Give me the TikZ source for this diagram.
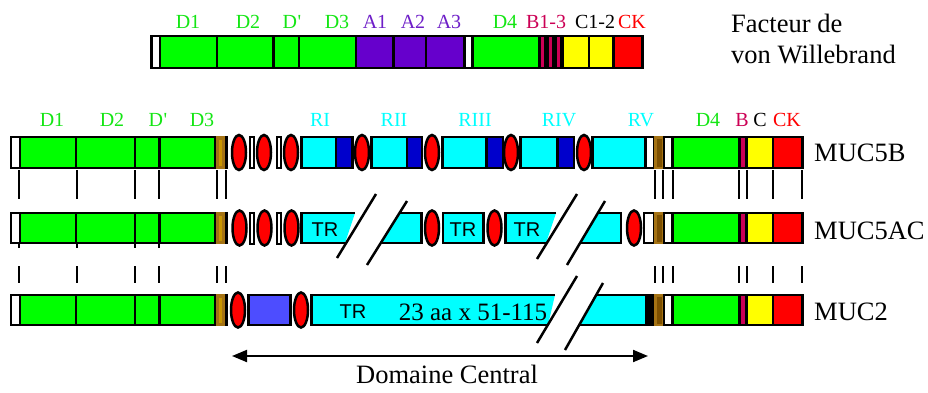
\documentclass[tikz,border=0pt]{standalone}
\usepackage{fontspec}
\setmainfont{Liberation Serif}
\newfontfamily\trfont{Liberation Sans}
\usetikzlibrary{arrows.meta}
\definecolor{vgreen}{RGB}{0,255,0}
\definecolor{lgreen}{RGB}{20,230,20}
\definecolor{vpurple}{RGB}{102,0,204}
\definecolor{lpurple}{RGB}{110,30,200}
\definecolor{vmag}{RGB}{204,0,85}
\definecolor{vyellow}{RGB}{255,255,0}
\definecolor{vred}{RGB}{255,0,0}
\definecolor{vcyan}{RGB}{0,255,255}
\definecolor{vdblue}{RGB}{0,0,204}
\definecolor{vmblue}{RGB}{77,77,255}
\definecolor{vbrown}{RGB}{125,80,0}
\definecolor{vbrownl}{RGB}{165,115,20}
\definecolor{vgold}{RGB}{200,150,0}
\tikzset{
  segbox/.style={draw=black, line width=2.5pt},
  lab/.style={anchor=base, inner sep=0pt, font=\fontsize{20}{24}\selectfont},
  big/.style={anchor=base west, inner sep=0pt, font=\fontsize{26.5}{30}\selectfont},
  trlab/.style={anchor=base, inner sep=0pt, font=\trfont\fontsize{20}{24}\selectfont},
  tk/.style={line width=2.2pt},
  slash/.style={line width=2.5pt},
  open/.style={line width=2.5pt, line join=miter}
}
\newcommand\seg[5]{\filldraw[segbox, fill=#5] (#1,#3) rectangle (#2,#4);}
\newcommand\rell[2]{\filldraw[fill=vred, line width=2.5pt] (#1,#2) ellipse [x radius=7, y radius=17.5];}
\newcommand\wbox[3]{\filldraw[fill=white, line width=2pt] (#1,#3) rectangle (#2,{#3+30.5});}
\newcommand\Dprime{D\kern0.5pt\textquotesingle}
\newcommand\Drow[2]{%
  \seg{11}{20}{#1}{#2}{white}
  \seg{20}{76}{#1}{#2}{vgreen}
  \seg{76}{135}{#1}{#2}{vgreen}
  \seg{135}{159.5}{#1}{#2}{vgreen}
  \seg{159.5}{215}{#1}{#2}{vgreen}
  \fill[vbrownl] (215.5,{#1-1.25}) rectangle (224.5,{#2+1.25});
  \fill[vgold] (218.5,{#1+2.5}) rectangle (222,{#2-2.5});
  \draw[line width=2.5pt] (226.5,{#1-1.25}) -- (226.5,{#2+1.25});
}
\newcommand\Rrow[4]{%
  \seg{#3}{654}{#1}{#2}{#4}
  \fill[vbrownl] (654,{#1-1.25}) rectangle (664,{#2+1.25});
  \fill[vbrown] (656.5,{#1+1.5}) rectangle (661.5,{#2-1.5});
  \seg{664}{672.5}{#1}{#2}{white}
  \seg{672.5}{739}{#1}{#2}{vgreen}
  \seg{739}{747}{#1}{#2}{black}
  \fill[vmag] (741,{#1+1.25}) rectangle (744.5,{#2-1.25});
  \seg{747}{773}{#1}{#2}{vyellow}
  \seg{773}{802.5}{#1}{#2}{vred}
}
\begin{document}
\begin{tikzpicture}[x=1pt,y=-1pt]
\useasboundingbox (0,0) rectangle (928,392);
\fill[white] (0,0) rectangle (928,392);

% ---------- von Willebrand factor ----------
\seg{151.5}{160}{36}{68}{white}
\seg{160}{217}{36}{68}{vgreen}
\seg{217}{273.5}{36}{68}{vgreen}
\seg{273.5}{299}{36}{68}{vgreen}
\seg{299}{356}{36}{68}{vgreen}
\seg{356}{393.5}{36}{68}{vpurple}
\seg{393.5}{426}{36}{68}{vpurple}
\seg{426}{464.5}{36}{68}{vpurple}
\seg{464.5}{472.5}{36}{68}{white}
\seg{472.5}{539}{36}{68}{vgreen}
\seg{539}{563}{36}{68}{black}
\fill[vmag] (541,37.25) rectangle (544,66.75);
\fill[vmag] (549,37.25) rectangle (552,66.75);
\fill[vmag] (557,37.25) rectangle (560,66.75);
\seg{563}{589}{36}{68}{vyellow}
\seg{589}{613.5}{36}{68}{vyellow}
\seg{613.5}{642.5}{36}{68}{vred}

\node[lab, text=lgreen] (vD1) at (188,28) {D1};
\node[lab, text=lgreen] (vD2) at (248,28) {D2};
\node[lab, text=lgreen] (vDp) at (292,28) {\Dprime};
\node[lab, text=lgreen] (vD3) at (337,28) {D3};
\node[lab, text=lpurple] (vA1) at (375,28) {A1};
\node[lab, text=lpurple] (vA2) at (413,28) {A2};
\node[lab, text=lpurple] (vA3) at (449,28) {A3};
\node[lab, text=lgreen] (vD4) at (505,28) {D4};
\node[lab, text=vmag] (vB) at (546,28) {B1-3};
\node[lab, text=black] (vC) at (595,28) {C1-2};
\node[lab, text=vred] (vCK) at (632,28) {CK};

\node[big] (fac1) at (731,32) {Facteur de};
\node[big] (fac2) at (731,63) {von Willebrand};

% ---------- MUC5B ----------
\Drow{137}{168}
\rell{239}{152.5}
\wbox{250}{254}{137.25}
\rell{264}{152.5}
\wbox{277}{281}{137.25}
\rell{291}{152.5}
\seg{301.5}{336}{137}{168}{vcyan}
\seg{336}{352.5}{137}{168}{vdblue}
\rell{362}{152.5}
\seg{371.5}{407}{137}{168}{vcyan}
\seg{407}{422}{137}{168}{vdblue}
\rell{432}{152.5}
\seg{442.5}{486.5}{137}{168}{vcyan}
\seg{486.5}{503}{137}{168}{vdblue}
\rell{511}{152.5}
\seg{520.5}{557.5}{137}{168}{vcyan}
\seg{557.5}{574}{137}{168}{vdblue}
\rell{584}{152.5}
\seg{592.5}{645.5}{137}{168}{vcyan}
\Rrow{137}{168}{645.5}{white}

\node[lab, text=lgreen] (bD1) at (52,126) {D1};
\node[lab, text=lgreen] (bD2) at (112,126) {D2};
\node[lab, text=lgreen] (bDp) at (158,126) {\Dprime};
\node[lab, text=lgreen] (bD3) at (202,126) {D3};
\node[lab, text=vcyan] (bR1) at (320,126) {RI};
\node[lab, text=vcyan] (bR2) at (394,126) {RII};
\node[lab, text=vcyan] (bR3) at (475,126) {RIII};
\node[lab, text=vcyan] (bR4) at (559,126) {RIV};
\node[lab, text=vcyan] (bR5) at (641,126) {RV};
\node[lab, text=lgreen] (bD4) at (708,126) {D4};
\node[lab, text=vmag] (bB) at (742,126) {B};
\node[lab, text=black] (bC) at (760,126) {C};
\node[lab, text=vred] (bCK) at (787,126) {CK};
\node[big] (m5b) at (814,161.5) {MUC5B};

% ticks MUC5B -> MUC5AC
\foreach \x in {19,77,135,159,217,226,655,663,673,739,747,773,802}
  \draw[tk] (\x,170) -- (\x,199);

% ---------- MUC5AC ----------
\Drow{213}{243}
\foreach \x in {19,77,135,159} \draw[tk] (\x,243) -- (\x,247.5);
\rell{239.5}{228}
\wbox{250}{254}{213.25}
\rell{264.5}{228}
\wbox{277}{281}{213.25}
\rell{291.5}{228}
\fill[vcyan] (301.5,213) -- (355,213) -- (345,243) -- (301.5,243) -- cycle;
\draw[open] (355,213) -- (301.5,213) -- (301.5,243) -- (345,243);
\fill[vcyan] (399.5,213) -- (421.5,213) -- (421.5,243) -- (380.75,243) -- cycle;
\draw[open] (399.5,213) -- (421.5,213) -- (421.5,243) -- (380.75,243);
\draw[slash] (337,258) -- (376,194);
\draw[slash] (367,265) -- (407,201);
\rell{432}{228}
\seg{443}{483.5}{213}{243}{vcyan}
\rell{494.5}{228}
\fill[vcyan] (505.5,213) -- (556,213) -- (546,243) -- (505.5,243) -- cycle;
\draw[open] (556,213) -- (505.5,213) -- (505.5,243) -- (546,243);
\fill[vcyan] (597.9,213) -- (621,213) -- (621,243) -- (580.1,243) -- cycle;
\draw[open] (597.9,213) -- (621,213) -- (621,243) -- (580.1,243);
\draw[slash] (537,259) -- (577,194);
\draw[slash] (567,265) -- (605,201);
\rell{634}{228}
\Rrow{213}{243}{644}{white}

\node[trlab] (tr1) at (325,236.5) {TR};
\node[trlab] (tr2) at (463,236.5) {TR};
\node[trlab] (tr3) at (527,236.5) {TR};
\node[big] (m5ac) at (814,239) {MUC5AC};

% ticks MUC5AC -> MUC2
\foreach \x in {19,77,135,159,217,226,655,663,673,739,747,773,802}
  \draw[tk] (\x,266) -- (\x,283);

% ---------- MUC2 ----------
\Drow{295}{325}
\rell{238}{310}
\seg{248.5}{290.5}{295}{325}{vmblue}
\rell{301}{310}
\fill[vcyan] (311.5,295) -- (555,295) -- (548,325) -- (311.5,325) -- cycle;
\draw[open] (555,295) -- (311.5,295) -- (311.5,325) -- (548,325);
\fill[vcyan] (596.2,295) -- (647,295) -- (647,325) -- (579.2,325) -- cycle;
\draw[open] (596.2,295) -- (647,295) -- (647,325) -- (579.2,325);
\draw[slash] (537,343) -- (577,276);
\draw[slash] (565,350) -- (603,283);
\Rrow{295}{325}{646}{black}

\node[trlab] (tr4) at (353,318) {TR};
\node[anchor=base, inner sep=0pt, font=\fontsize{25}{30}\selectfont] (aa) at (473,320) {23 aa x 51-115};
\node[big] (m2) at (814,320) {MUC2};

% ---------- Domaine central ----------
\coordinate (dcl) at (232,356);
\coordinate (dcr) at (648,356);
\draw[line width=2pt, {Triangle[length=15pt,width=12pt]}-{Triangle[length=15pt,width=12pt]}] (dcl) -- (dcr);
\node[anchor=base, inner sep=0pt, font=\fontsize{26.5}{30}\selectfont] (dom) at (447,383) {Domaine Central};
\end{tikzpicture}
\end{document}
